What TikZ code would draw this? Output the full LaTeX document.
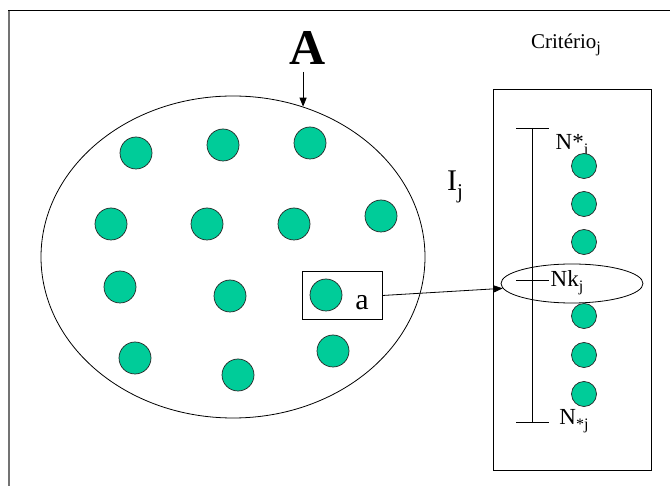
\documentclass[tikz,border=0pt]{standalone}
\usepackage{fontspec}
\setmainfont{Liberation Serif}
\usetikzlibrary{shapes.geometric,arrows.meta}
\definecolor{dotgreen}{RGB}{0,204,153}
\newcommand{\lowsub}[1]{\raisebox{-0.22em}{\fontsize{16}{16}\selectfont #1}}
\tikzset{
  every node/.style={inner sep=0pt},
  dot/.style={circle,draw=black!85,line width=0.7pt,fill=dotgreen,minimum size=32pt},
  sdot/.style={dot,minimum size=25pt},
  frameline/.style={line width=0.8pt},
  arr/.style={line width=0.8pt,-{Triangle[length=9pt,width=7pt]}},
  lbl/.style={font=\fontsize{23}{23}\selectfont}
}
\begin{document}
\begin{tikzpicture}[x=1pt,y=-1pt]
\useasboundingbox (0,0) rectangle (670,486);
% outer frame (open at the right and bottom)
\draw[line width=1.2pt,black!55] (9,486) -- (9,10);
\draw[frameline] (8.4,10) -- (670,10);

% the set A
\node[draw,frameline,ellipse,minimum width=384pt,minimum height=322pt] (setA) at (233,257) {};
\node[font=\fontsize{50}{50}\selectfont\bfseries] (Alab) at (308,48) {A};
\path (setA.65.3) coordinate (atip);
\draw[arr] (atip |- 0,72) -- (atip);

% alternatives inside A
\node[dot] (d1) at (136,153) {};
\node[dot] (d2) at (223,145) {};
\node[dot] (d3) at (310,143) {};
\node[dot] (d4) at (111,224) {};
\node[dot] (d5) at (207,224) {};
\node[dot] (d6) at (294,224) {};
\node[dot] (d7) at (381,216) {};
\node[dot] (d8) at (120,287) {};
\node[dot] (d9) at (230,296) {};
\node[dot] (d11) at (135,358) {};
\node[dot] (d12) at (238,375) {};
\node[dot] (d13) at (333,351) {};

% highlighted alternative a
\node[draw,frameline,minimum width=80pt,minimum height=48pt] (abox) at (342,295.5) {};
\node[dot] (d10) at (326,295) {};
\node[font=\fontsize{30}{30}\selectfont] (alab) at (362,303) {a};

% criterion scale
\node[font=\fontsize{21}{21}\selectfont] (crit) at (566,45) {Critério\lowsub{j}};
\node[draw,frameline,minimum width=158pt,minimum height=381pt] (panel) at (572,279.5) {};
\node[font=\fontsize{30}{30}\selectfont] (ij) at (455,187) {I\raisebox{-0.25em}{\fontsize{21}{21}\selectfont j}};

\coordinate (stop) at (532,128);
\coordinate (smid) at (532,280);
\coordinate (sbot) at (532,422);
\draw[frameline] (stop) -- (sbot);
\draw[frameline] ([xshift=-16pt]stop) -- ([xshift=17pt]stop);
\draw[frameline] ([xshift=-16pt]smid) -- ([xshift=17pt]smid);
\draw[frameline] ([xshift=-16pt]sbot) -- ([xshift=17pt]sbot);

\node[lbl] (ntop) at (572,146) {N*\lowsub{j}};
\node[sdot] (s1) at (584,166) {};
\node[sdot] (s2) at (584,204) {};
\node[sdot] (s3) at (584,242) {};
\node[draw,frameline,ellipse,minimum width=142pt,minimum height=39pt] (nk) at (572,283.5) {};
\node[lbl] (nklab) at (567,283) {Nk\lowsub{j}};
\node[sdot] (s4) at (584,316) {};
\node[sdot] (s5) at (584,355) {};
\node[sdot] (s6) at (584,394) {};
\node[lbl] (nbot) at (574,421) {N\lowsub{*j}};

\draw[arr] (abox.east) -- (nk.184);
\end{tikzpicture}
\end{document}
